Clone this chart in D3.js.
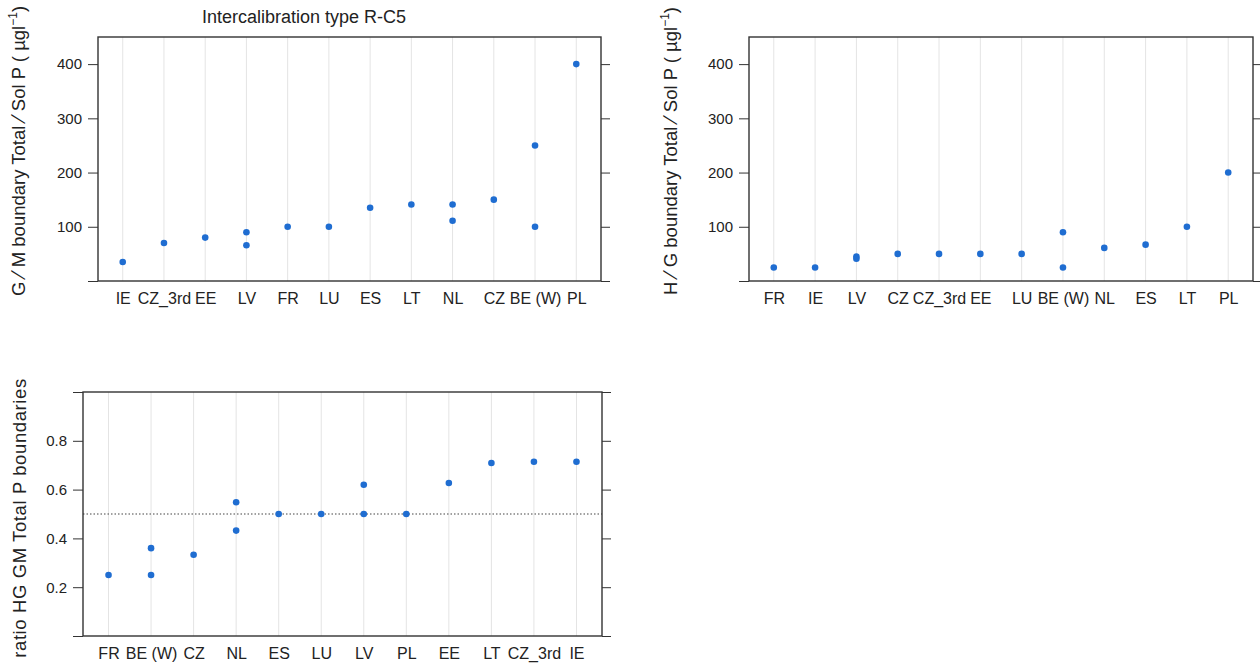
<!DOCTYPE html>
<html>
<head>
<meta charset="utf-8">
<script src="https://cdn.jsdelivr.net/npm/d3@7"></script>
<style>
  html, body { margin: 0; padding: 0; background: #fff; }
  svg { display: block; }
  text { font-family: "Liberation Sans", Arial, sans-serif; fill: #222; }
</style>
</head>
<body>
<svg id="chart" width="1260" height="665"></svg>
<script>
// ---------- data ----------
const titleText = "Intercalibration type R-C5";

// Panel 1: G/M boundary
const gmCategories = ["IE", "CZ_3rd", "EE", "LV", "FR", "LU", "ES", "LT", "NL", "CZ", "BE (W)", "PL"];
const gmCountry = ["IE", "CZ_3rd", "EE", "LV", "LV", "FR", "LU", "ES", "LT", "NL", "NL", "CZ", "BE (W)", "BE (W)", "PL"];
const gmValue   = [35,   70,       80,   90,   66,   100,  100,  135,  141,  141,  111,  150,  250,      100,      400];
const gmTicks = [0, 100, 200, 300, 400];
const gmTickLabels = ["", "100", "200", "300", "400"];

// Panel 2: H/G boundary
const hgCategories = ["FR", "IE", "LV", "CZ", "CZ_3rd", "EE", "LU", "BE (W)", "NL", "ES", "LT", "PL"];
const hgCountry = ["FR", "IE", "LV", "LV", "CZ", "CZ_3rd", "EE", "LU", "BE (W)", "BE (W)", "NL", "ES", "LT", "PL"];
const hgValue   = [25,   25,   45,   41,   50,   50,       50,   50,   90,       25,       61,   67,   100,  200];
const hgTicks = [0, 100, 200, 300, 400];
const hgTickLabels = ["", "100", "200", "300", "400"];

// Panel 3: ratio HG/GM
const ratioCategories = ["FR", "BE (W)", "CZ", "NL", "ES", "LU", "LV", "PL", "EE", "LT", "CZ_3rd", "IE"];
const ratioCountry = ["FR", "BE (W)", "BE (W)", "CZ", "NL", "NL", "ES", "LU", "LV", "LV", "PL", "EE", "LT", "CZ_3rd", "IE"];
const ratioValue   = [0.25, 0.36,     0.25,     0.333, 0.548, 0.432, 0.5, 0.5, 0.62, 0.5, 0.5, 0.627, 0.709, 0.714, 0.714];
const ratioTicks = [0, 0.2, 0.4, 0.6, 0.8, 1.0];
const ratioTickLabels = ["", "0.2", "0.4", "0.6", "0.8", ""];
const ratioRefLine = [0.5];

// ---------- drawing ----------
const svg = d3.select("#chart");
const pointColor = "#1f6dd1";

function panel(opt) {
  const g = svg.append("g");
  const x = d3.scalePoint().domain(opt.categories).range([opt.x0, opt.x1]).padding(0.6);
  const y = d3.scaleLinear().domain(opt.yDomain).range([opt.y1, opt.y0]);

  // vertical reference lines
  g.append("g").selectAll("line").data(opt.categories).join("line")
    .attr("x1", d => x(d)).attr("x2", d => x(d))
    .attr("y1", opt.y0).attr("y2", opt.y1)
    .attr("stroke", "#e4e4e4").attr("stroke-width", 1);

  // reference horizontal line
  if (opt.refLine) {
    g.append("g").selectAll("line").data(opt.refLine).join("line")
      .attr("x1", opt.x0).attr("x2", opt.x1)
      .attr("y1", d => y(d)).attr("y2", d => y(d))
      .attr("stroke", "#444").attr("stroke-width", 1.1)
      .attr("stroke-dasharray", "1.5,2");
  }

  // left axis
  const left = d3.axisLeft(y).tickValues(opt.ticks).tickSize(10).tickPadding(6)
    .tickFormat((d, i) => opt.tickLabels[i]);
  const la = g.append("g").attr("transform", `translate(${opt.x0},0)`).call(left);
  la.select(".domain").remove();
  la.selectAll("line").attr("stroke", "#333");
  la.selectAll("text").style("font-size", "15px").attr("fill", "#333");

  // right axis (ticks only)
  const right = d3.axisRight(y).tickValues(opt.ticks).tickSize(9).tickFormat("");
  const ra = g.append("g").attr("transform", `translate(${opt.x1},0)`).call(right);
  ra.select(".domain").remove();
  ra.selectAll("line").attr("stroke", "#333");

  // bottom axis (labels)
  const bottom = d3.axisBottom(x).tickSize(0).tickPadding(12);
  const ba = g.append("g").attr("transform", `translate(0,${opt.y1})`).call(bottom);
  ba.select(".domain").remove();
  ba.selectAll("text").style("font-size", "16px").attr("fill", "#333");

  // box
  g.append("rect")
    .attr("x", opt.x0).attr("y", opt.y0)
    .attr("width", opt.x1 - opt.x0).attr("height", opt.y1 - opt.y0)
    .attr("fill", "none").attr("stroke", "#333").attr("stroke-width", 1.4);

  // points
  g.append("g").selectAll("circle").data(opt.country.map((c, i) => ({c, v: opt.values[i]})))
    .join("circle")
    .attr("cx", d => x(d.c)).attr("cy", d => y(d.v))
    .attr("r", 3.3).attr("fill", pointColor);

  // y label
  const lab = g.append("text")
    .attr("transform", `translate(${opt.labX},${(opt.y0 + opt.y1) / 2 + (opt.labDy || 0)}) rotate(-90)`)
    .attr("text-anchor", "middle")
    .style("font-size", "18.5px")
    .style("letter-spacing", (opt.labSpacing || 0) + "px")
    .attr("fill", "#333");
  opt.label(lab);
  return g;
}

function unitLabel(prefix) {
  return function(t) {
    t.append("tspan").text(prefix[0]);
    t.append("tspan").text(" \u2215 ").style("font-size", "20px");
    t.append("tspan").text(prefix[1] + " boundary Total");
    t.append("tspan").text(" \u2215 ").style("font-size", "20px");
    t.append("tspan").text("Sol P (  \u00b5gl");
    t.append("tspan").text("\u22121").attr("dy", -8).style("font-size", "12px");
    t.append("tspan").text(")").attr("dy", 8);
  };
}

panel({
  categories: gmCategories, country: gmCountry, values: gmValue,
  x0: 98, x1: 601, y0: 37, y1: 281, yDomain: [0, 450],
  ticks: gmTicks, tickLabels: gmTickLabels,
  labX: 25, labDy: -8, label: unitLabel(["G", "M"])
});

panel({
  categories: hgCategories, country: hgCountry, values: hgValue,
  x0: 749, x1: 1253, y0: 37, y1: 281, yDomain: [0, 450],
  ticks: hgTicks, tickLabels: hgTickLabels,
  labX: 677, labDy: -8, label: unitLabel(["H", "G"])
});

panel({
  categories: ratioCategories, country: ratioCountry, values: ratioValue,
  x0: 83, x1: 602, y0: 392, y1: 636, yDomain: [0, 1],
  ticks: ratioTicks, tickLabels: ratioTickLabels, refLine: ratioRefLine,
  labX: 26, labDy: 4, labSpacing: 0.6, label: t => t.text("ratio HG GM Total P boundaries")
});

// title
svg.append("text")
  .attr("x", 304).attr("y", 23)
  .attr("text-anchor", "middle")
  .style("font-size", "18px").attr("fill", "#333")
  .text(titleText);
</script>
</body>
</html>
